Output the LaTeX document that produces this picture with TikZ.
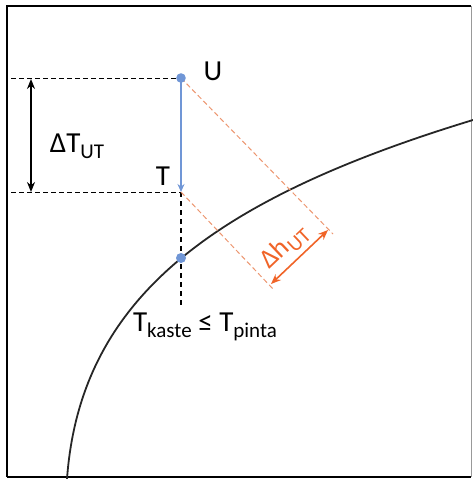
\documentclass[tikz,border=0pt]{standalone}
\usepackage{fontspec}
\setmainfont{Carlito}
\usepackage{xcolor}
\usepackage{tikz}
\usetikzlibrary{arrows.meta, calc}
\definecolor{ptblue}{RGB}{112, 150, 214}
\definecolor{dhorange}{RGB}{240, 100, 40}
\definecolor{dhlight}{RGB}{236, 150, 112}
\newcommand{\lowsub}[1]{\raisebox{-0.45ex}{\fontsize{21}{23}\selectfont #1}}

\begin{document}
\begin{tikzpicture}[x=1pt, y=-1pt, >=Stealth]

  \useasboundingbox (0, 0) rectangle (473, 479);

  \coordinate (U)     at (181, 78);
  \coordinate (T)     at (181, 192);
  \coordinate (P)     at (181, 258);
  \coordinate (Tdown) at (181, 305);

  \coordinate (Uleft) at (11, 78);
  \coordinate (Tleft) at (11, 192);
  \coordinate (Atop)  at (31, 79);
  \coordinate (Abot)  at (31, 192);

  \coordinate (Uend)  at (333, 234);
  \coordinate (Tend)  at (274, 290);
  \coordinate (Hup)   at (328, 230);
  \coordinate (Hdown) at (271, 284);

  \coordinate (Cstart) at (67, 479);
  \coordinate (Cend)   at (473, 120);

  % Frame
  \draw[line width=1.6pt] (7, 477) -- (7, 6) -- (471, 6);
  \draw[line width=1.4pt] (7, 477) -- (471, 477);
  \draw[line width=0.6pt, black!40] (471, 6) -- (471, 477);

  % Curve
  \draw[line width=1.8pt, black!85] (Cstart) .. controls (80, 300) and (210, 200) .. (Cend);

  % Dashed guides
  \draw[dash pattern=on 5pt off 3pt, line width=1pt] (Uleft) -- (U);
  \draw[dash pattern=on 5pt off 3pt, line width=1pt] (Tleft) -- (T);
  \draw[dash pattern=on 5pt off 4pt, line width=1.3pt] (T) -- (Tdown);

  % Orange guides
  \draw[dash pattern=on 5pt off 3pt, line width=1pt, color=dhlight] (U) -- (Uend);
  \draw[dash pattern=on 5pt off 3pt, line width=1pt, color=dhlight] (T) -- (Tend);

  % Arrows
  \draw[{Stealth[length=10pt, width=8pt]}-{Stealth[length=10pt, width=8pt]}, line width=1.4pt]
    (Atop) -- (Abot);
  \draw[-{Stealth[length=8pt, width=7pt]}, line width=2.4pt, color=ptblue] (U) -- (T);
  \draw[{Stealth[length=10pt, width=8pt]}-{Stealth[length=10pt, width=8pt]}, line width=1.6pt,
    color=dhorange] (Hdown) -- node[pos=0.45, above=1pt, sloped, font=\fontsize{27}{30}\selectfont]
    (dhlab) {Δh\lowsub{UT}} (Hup);

  % Points
  \fill[ptblue] (U) circle (4.8);
  \fill[ptblue] (P) circle (5);

  % Labels
  \node[font=\fontsize{29}{32}\selectfont] (Ulab) at (213, 71) {U};
  \node[font=\fontsize{29}{32}\selectfont] (Tlab) at (163, 176) {T};
  \node[font=\fontsize{29}{32}\selectfont] (dTlab) at (77, 146) {ΔT\lowsub{UT}};
  \node[font=\fontsize{29}{32}\selectfont] (cond) at (205, 327)
    {T\lowsub{kaste} ≤ T\lowsub{pinta}};

\end{tikzpicture}
\end{document}
